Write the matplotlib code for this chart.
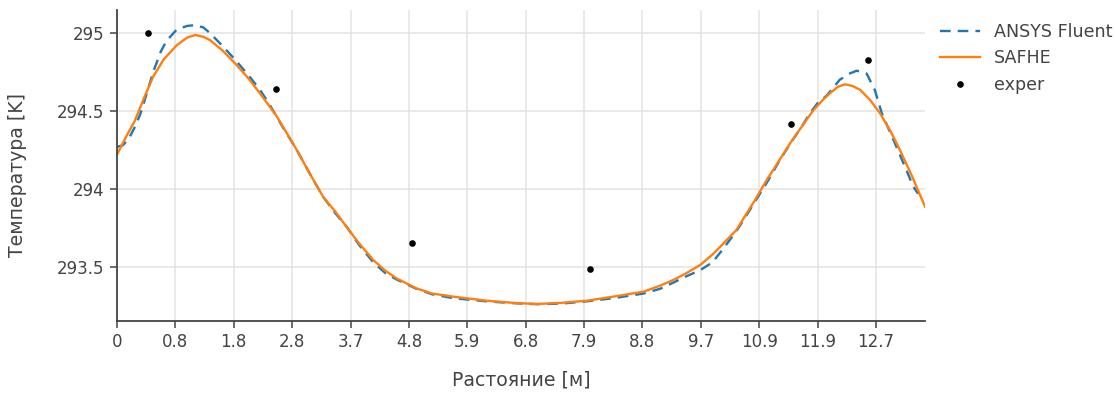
from matplotlib import pyplot as plt
import numpy as np

# x axis is categorical-like: uniformly spaced ticks with these labels
tick_labels = ["0", "0.8", "1.8", "2.8", "3.7", "4.8", "5.9", "6.8",
               "7.9", "8.8", "9.7", "10.9", "11.9", "12.7"]
y_ticks = [293.5, 294, 294.5, 295]
y_tick_labels = ["293.5", "294", "294.5", "295"]

# SAFHE (positions in tick units)
safhe_x = [0.00, 0.15, 0.31, 0.46, 0.62, 0.80, 1.02, 1.20, 1.34, 1.48, 1.59,
           1.80, 2.02, 2.25, 2.45, 2.74, 3.08, 3.30, 3.53, 3.75, 3.93, 4.15,
           4.39, 4.60, 4.79, 5.13, 5.40, 5.76, 6.33, 6.80, 7.19, 7.60, 8.05,
           8.50, 9.02, 9.30, 9.53, 9.75, 9.99, 10.20, 10.39, 10.61, 10.73,
           10.93, 11.13, 11.33, 11.53, 11.73, 11.93, 12.10, 12.21, 12.35,
           12.47, 12.60, 12.73, 12.90, 13.07, 13.25, 13.41, 13.62, 13.84]
safhe_y = [294.22, 294.33, 294.44, 294.58, 294.72, 294.83, 294.92, 294.97,
           294.987, 294.975, 294.955, 294.89, 294.806, 294.71, 294.613,
           294.464, 294.25, 294.10, 293.95, 293.85, 293.758, 293.65, 293.545,
           293.475, 293.427, 293.363, 293.33, 293.31, 293.284, 293.27,
           293.263, 293.27, 293.284, 293.31, 293.342, 293.38, 293.417,
           293.46, 293.513, 293.58, 293.652, 293.737, 293.81, 293.93,
           294.058, 294.175, 294.293, 294.40, 294.506, 294.575, 294.613,
           294.655, 294.671, 294.66, 294.635, 294.57, 294.485, 294.37,
           294.25, 294.08, 293.887]

# ANSYS Fluent
fluent_x = [0.00, 0.10, 0.20, 0.31, 0.40, 0.50, 0.62, 0.75, 0.85, 1.02, 1.20,
            1.34, 1.48, 1.59, 1.80, 2.02, 2.25, 2.45, 2.60, 2.74, 2.85, 3.00,
            3.08, 3.30, 3.53, 3.75, 3.93, 4.15, 4.39, 4.60, 4.79, 5.13, 5.40,
            5.76, 6.33, 6.80, 7.19, 7.60, 8.05, 8.50, 9.02, 9.30, 9.53, 9.75,
            9.99, 10.20, 10.39, 10.61, 10.73, 10.93, 11.13, 11.33, 11.53,
            11.73, 11.87, 12.00, 12.16, 12.38, 12.55, 12.67, 12.84, 12.98,
            13.10, 13.30, 13.50, 13.64, 13.72]
fluent_y = [294.27, 294.28, 294.32, 294.40, 294.48, 294.60, 294.75, 294.88,
            294.95, 295.02, 295.045, 295.05, 295.035, 295.00, 294.92, 294.83,
            294.73, 294.635, 294.55, 294.46, 294.39, 294.30, 294.25, 294.10,
            293.95, 293.84, 293.76, 293.64, 293.53, 293.46, 293.42, 293.36,
            293.325, 293.30, 293.28, 293.268, 293.262, 293.265, 293.28,
            293.30, 293.33, 293.36, 293.40, 293.44, 293.48, 293.53, 293.62,
            293.73, 293.80, 293.92, 294.04, 294.17, 294.29, 294.40, 294.487,
            294.55, 294.60, 294.70, 294.74, 294.758, 294.74, 294.635, 294.485,
            294.314, 294.14, 294.015, 293.97]

# experiment
exper_x = [0.536, 2.72, 5.06, 8.10, 11.54, 12.87]
exper_y = [295.0, 294.64, 293.656, 293.487, 294.417, 294.827]

txt = "#444444"

fig = plt.figure(figsize=(11.15, 3.94), dpi=100)
ax = fig.add_axes([0.1049, 0.1853, 0.7247, 0.7893])

ax.plot(fluent_x, fluent_y, color="#1f77b4", lw=1.7, dashes=(4.5, 3),
        label="ANSYS Fluent")
ax.plot(safhe_x, safhe_y, color="#ff7f0e", lw=1.7, label="SAFHE")
ax.plot(exper_x, exper_y, "k.", markersize=7.5, label="exper")

ax.set_xlim(0, 13.84)
ax.set_ylim(293.154, 295.147)
ax.set_xticks(np.arange(len(tick_labels)))
ax.set_xticklabels(tick_labels)
ax.set_yticks(y_ticks)
ax.set_yticklabels(y_tick_labels)

ax.grid(True, color="#e3e3e3", lw=1.1)
ax.set_axisbelow(True)
for s in ["top", "right"]:
    ax.spines[s].set_visible(False)
for s in ["left", "bottom"]:
    ax.spines[s].set_color(txt)
    ax.spines[s].set_linewidth(1.3)
ax.tick_params(colors=txt, labelsize=12, length=5, width=1.1, pad=4)

ax.set_xlabel("Растояние [м]", fontsize=13.6, color=txt, labelpad=14)
ax.set_ylabel("Температура [K]", fontsize=13.6, color=txt)
ax.yaxis.set_label_coords(-0.111, 0.47)

leg = ax.legend(loc="upper left", bbox_to_anchor=(0.999, 1.01), frameon=False,
                fontsize=12.6, handlelength=2.3, labelspacing=0.5,
                handletextpad=0.8)
for t in leg.get_texts():
    t.set_color(txt)

plt.savefig("out.png", dpi=100)
